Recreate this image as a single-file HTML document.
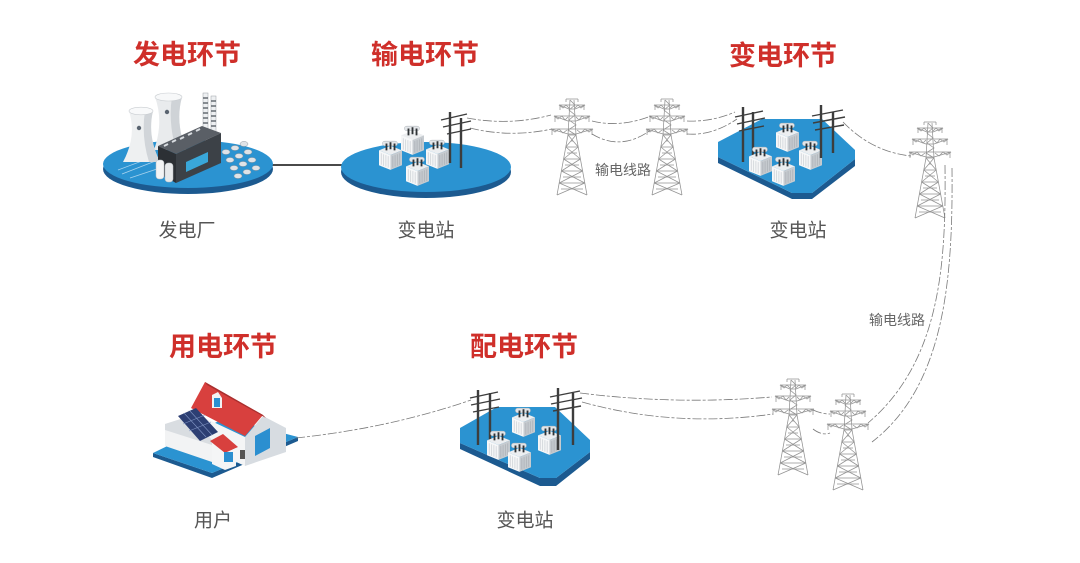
<!DOCTYPE html>
<html><head><meta charset="utf-8"><style>
html,body{margin:0;padding:0;background:#fff;}
svg{display:block;}
.t{font-family:"Liberation Sans","Noto Sans CJK SC",sans-serif;font-weight:700;font-size:27px;fill:#cf2f2a;}
.l{font-family:"Liberation Sans","Noto Sans CJK SC",sans-serif;font-size:19px;fill:#555;}
.s{font-family:"Liberation Sans","Noto Sans CJK SC",sans-serif;font-size:14px;fill:#666;}
</style></head><body>
<svg width="1080" height="563" viewBox="0 0 1080 563" xmlns="http://www.w3.org/2000/svg">
<defs>
<g id="tw" fill="none" stroke="#939393" stroke-width="0.75">
 <path d="M-2,0 L-4,35 L-15,95 M2,0 L4,35 L15,95"/>
 <path d="M-2,0 L3,5 L-3,10 L3,15 L-3,20 L4,25 L-4,30 L4,35"/>
 <path d="M-4,35 L6.2,47 M4,35 L-6.2,47 M-6.2,47 L8.4,59 M6.2,47 L-8.4,59 M-8.4,59 L10.6,71 M8.4,59 L-10.6,71 M-10.6,71 L12.8,83 M10.6,71 L-12.8,83 M-12.8,83 L15,95 M12.8,83 L-15,95"/>
 <path d="M-4,35 H4 M-6.2,47 H6.2 M-8.4,59 H8.4 M-10.6,71 H10.6 M-12.8,83 H12.8 M-1,41 L1,41 M-5,53 L5,53 M-7,65 L7,65 M-9,77 L9,77 M-11,89 L11,89"/>
 <path d="M-13,5 H13 L3,9 H-3 Z M-18,16 H18 L4,21 H-4 Z M-21,29 H21 L4,34 H-4 Z"/>
 <path d="M-13,5 L-9,8 L-6,5 L-3,8 M13,5 L9,8 L6,5 L3,8 M-18,16 L-14,19 L-10,16 L-7,20 L-4,17 M18,16 L14,19 L10,16 L7,20 L4,17 M-21,29 L-17,32 L-13,29 L-9,33 L-5,30 M21,29 L17,32 L13,29 L9,33 L5,30"/>
 <path d="M-12,5 v5 M12,5 v5 M-17,16 v6 M17,16 v6 M-20,29 v6 M20,29 v6 M-6,-1 H6 M-6,-1 v3 M6,-1 v3"/>
</g>
<g id="tf0">
 <rect x="3" y="1" width="13" height="4" rx="2" fill="#e3e6e9" stroke="#b5babf" stroke-width="0.5"/>
 <path d="M0,9 L10,5 L20,9 L10,13 Z" fill="#eceef0"/>
 <path d="M0,9 L10,13 L10,26 L0,22 Z" fill="#f6f7f8"/>
 <path d="M10,13 L20,9 L20,22 L10,26 Z" fill="#c6cbd0"/>
 <path d="M2,11.5 v10 M4,12.5 v10 M6,13.2 v10 M8,14 v10" stroke="#d3d7db" stroke-width="0.8"/>
 <path d="M12,14 v10 M14,13.2 v10 M16,12.4 v10 M18,11.6 v10" stroke="#b0b5ba" stroke-width="0.8"/>
 <path d="M6.5,3 v6 M10,2 v6 M13.5,3 v6" stroke="#2f3336" stroke-width="1.6"/>
</g>
<g id="tf"><use href="#tf0" transform="scale(1.15)"/></g>
</defs>

<!-- Titles -->
<text class="t" x="187" y="55" text-anchor="middle" dominant-baseline="central">发电环节</text>
<text class="t" x="425" y="55" text-anchor="middle" dominant-baseline="central">输电环节</text>
<text class="t" x="783" y="56" text-anchor="middle" dominant-baseline="central">变电环节</text>
<text class="t" x="223" y="347" text-anchor="middle" dominant-baseline="central">用电环节</text>
<text class="t" x="524" y="347" text-anchor="middle" dominant-baseline="central">配电环节</text>

<!-- Labels -->
<text class="l" x="187" y="231" text-anchor="middle" dominant-baseline="central">发电厂</text>
<text class="l" x="426" y="231" text-anchor="middle" dominant-baseline="central">变电站</text>
<text class="l" x="798" y="231" text-anchor="middle" dominant-baseline="central">变电站</text>
<text class="l" x="213" y="521" text-anchor="middle" dominant-baseline="central">用户</text>
<text class="l" x="525" y="521" text-anchor="middle" dominant-baseline="central">变电站</text>
<text class="s" x="623" y="170" text-anchor="middle" dominant-baseline="central">输电线路</text>
<text class="s" x="897" y="320" text-anchor="middle" dominant-baseline="central">输电线路</text>

<!-- connector plant - substation -->
<line x1="270" y1="165" x2="344" y2="165" stroke="#4a4a4a" stroke-width="2"/>

<!-- Power plant disc -->
<ellipse cx="188" cy="169" rx="85" ry="25" fill="#1c5a90"/>
<ellipse cx="188" cy="164" rx="85" ry="24" fill="#2b93d1"/>
<path d="M118,170 L150,158 M122,174 L158,160 M130,178 L160,168" stroke="#a9d3ee" stroke-width="0.8" fill="none"/>
<!-- cooling tower back -->
<path d="M155,97 Q164,122 154,150 L186,150 Q175,122 182,97 Z" fill="#e9ebed"/>
<path d="M172,97 Q168,122 176,150 L186,150 Q175,122 182,97 Z" fill="#cfd3d7"/>
<ellipse cx="168.5" cy="97" rx="13.5" ry="4" fill="#f7f8f9" stroke="#c9cdd1" stroke-width="0.6"/>
<circle cx="167" cy="112" r="2.2" fill="#5a6470"/>
<!-- chimneys -->
<rect x="203" y="93" width="5" height="40" fill="#eef0f2" stroke="#9aa0a6" stroke-width="0.5"/>
<rect x="211" y="96" width="5" height="37" fill="#eef0f2" stroke="#9aa0a6" stroke-width="0.5"/>
<path d="M203,98 h5 M203,103 h5 M203,108 h5 M203,113 h5 M203,118 h5 M203,123 h5 M211,101 h5 M211,106 h5 M211,111 h5 M211,116 h5 M211,121 h5 M211,126 h5" stroke="#4b525a" stroke-width="1.3"/>
<!-- cooling tower front -->
<path d="M129,111 Q137,136 123,162 L160,162 Q147,136 153,111 Z" fill="#eef0f1"/>
<path d="M145,111 Q141,136 149,162 L160,162 Q147,136 153,111 Z" fill="#d1d5d9"/>
<ellipse cx="141" cy="111" rx="12" ry="3.8" fill="#f8f9fa" stroke="#c9cdd1" stroke-width="0.6"/>
<circle cx="139" cy="128" r="2.2" fill="#5a6470"/>
<!-- building -->
<path d="M158,146 L202,126 L221,133 L176,154 Z" fill="#5a5f66"/>
<path d="M158,146 L176,154 L176,183 L158,173 Z" fill="#2c3035"/>
<path d="M176,154 L221,133 L221,163 L176,183 Z" fill="#3c4147"/>
<path d="M164,146 l4,-2 M172,142 l4,-2 M180,139 l4,-2 M188,135 l4,-2 M196,131 l4,-2" stroke="#d8dce0" stroke-width="2"/>
<path d="M186,162 L208,152 L208,162 L186,172 Z" fill="#39a7d9"/>
<!-- tanks -->
<rect x="156" y="160" width="8" height="19" rx="3" fill="#f3f4f5" stroke="#b9bec3" stroke-width="0.5"/>
<rect x="165" y="163" width="8" height="19" rx="3" fill="#e7e9eb" stroke="#b9bec3" stroke-width="0.5"/>
<!-- array -->
<g fill="#dfe3e7" stroke="#8d959d" stroke-width="0.5">
<ellipse cx="226" cy="152" rx="4" ry="2.5"/><ellipse cx="235" cy="148" rx="4" ry="2.5"/><ellipse cx="244" cy="144" rx="4" ry="2.5"/>
<ellipse cx="230" cy="160" rx="4" ry="2.5"/><ellipse cx="239" cy="156" rx="4" ry="2.5"/><ellipse cx="248" cy="152" rx="4" ry="2.5"/>
<ellipse cx="234" cy="168" rx="4" ry="2.5"/><ellipse cx="243" cy="164" rx="4" ry="2.5"/><ellipse cx="252" cy="160" rx="4" ry="2.5"/>
<ellipse cx="238" cy="176" rx="4" ry="2.5"/><ellipse cx="247" cy="172" rx="4" ry="2.5"/><ellipse cx="256" cy="168" rx="4" ry="2.5"/>
</g>

<!-- Substation 1 disc -->
<ellipse cx="426" cy="172" rx="85" ry="26" fill="#1c5a90"/>
<ellipse cx="426" cy="167" rx="85" ry="25" fill="#2b93d1"/>
<use href="#tf" x="401" y="125"/>
<use href="#tf" x="379" y="140"/>
<use href="#tf" x="426" y="139"/>
<use href="#tf" x="406" y="156"/>
<path d="M450,112 V163 M461,118 V168" stroke="#3d3d3d" stroke-width="2.4"/>
<path d="M441,120 L467,114 M443,127 L471,121 M447,134 L471,129" stroke="#3d3d3d" stroke-width="1.4"/>

<!-- Substation 2 platform -->
<path d="M718,157 L792,193 L812,193 L855,159 L855,166 L812,199 L792,199 L718,163 Z" fill="#1c5a90"/>
<path d="M718,142 L762,119 L822,119 L855,150 L855,159 L812,193 L792,193 L718,157 Z" fill="#2b93d1"/>
<path d="M743,107 V162 M753,112 V158" stroke="#3d3d3d" stroke-width="2.4"/>
<path d="M735,117 L763,111 M737,124 L765,118 M739,131 L764,126" stroke="#3d3d3d" stroke-width="1.4"/>
<use href="#tf" x="776" y="122"/>
<use href="#tf" x="749" y="146"/>
<use href="#tf" x="799" y="140"/>
<use href="#tf" x="772" y="156"/>
<path d="M821,105 V158 M833,112 V153" stroke="#3d3d3d" stroke-width="2.4"/>
<path d="M812,116 L843,110 M813,123 L845,117 M815,130 L844,125" stroke="#3d3d3d" stroke-width="1.4"/>

<!-- Substation 3 platform -->
<path d="M460,443 L540,478 L556,478 L590,452 L590,459 L556,486 L540,486 L460,449 Z" fill="#1c5a90"/>
<path d="M460,428 L497,407 L555,407 L590,440 L590,452 L556,478 L540,478 L460,443 Z" fill="#2b93d1"/>
<path d="M478,390 V445 M490,393 V440" stroke="#3d3d3d" stroke-width="2.4"/>
<path d="M470,398 L498,392 M471,405 L500,399 M473,412 L499,407" stroke="#3d3d3d" stroke-width="1.4"/>
<use href="#tf" x="512" y="407"/>
<use href="#tf" x="487" y="430"/>
<use href="#tf" x="538" y="425"/>
<use href="#tf" x="508" y="442"/>
<path d="M558,388 V450 M573,393 V445" stroke="#3d3d3d" stroke-width="2.4"/>
<path d="M550,397 L580,391 M551,404 L582,398 M553,411 L581,406" stroke="#3d3d3d" stroke-width="1.4"/>

<!-- House -->
<path d="M153,453 L212,473 L298,437 L298,441 L212,478 L153,457 Z" fill="#1c5a90"/>
<path d="M153,453 L225,418 L298,437 L212,473 Z" fill="#2b93d1"/>
<path d="M245,437 L263,416 L286,428 L286,452 L245,466 Z" fill="#d7dce1"/>
<path d="M255,436 L270,428 L270,448 L255,456 Z" fill="#2b8fd0"/>
<path d="M188,410 L245,437 L245,466 L188,440 Z" fill="#f4f5f6"/>
<path d="M165,424 L190,416 L212,440 L212,462 L165,446 Z" fill="#f2f3f4"/>
<path d="M165,424 L190,416 L212,440 L212,445 L165,430 Z" fill="#d9dde1"/>
<path d="M205,382 L263,415 L245,436 L191,408 Z" fill="#d8403e"/>
<path d="M205,382 L263,415 L266,418 L207,385 Z" fill="#a8302f"/>
<path d="M178,416 L196,408 L218,432 L200,441 Z" fill="#2d3f73"/>
<path d="M184,413 L206,437 M190,411 L212,435 M183,424 L205,415 M189,431 L211,422" stroke="#7f93c2" stroke-width="0.6"/>
<path d="M212,395 L218,392 L222,398 L222,408 L212,408 Z" fill="#f2f3f4"/>
<rect x="214" y="398" width="6" height="9" fill="#2b8fd0"/>
<path d="M210,441 L223,434 L238,447 L225,453 Z" fill="#d8403e"/>
<path d="M212,448 L225,453 L236,448 L236,466 L225,470 L212,464 Z" fill="#f4f5f6"/>
<rect x="224" y="452" width="9" height="10" fill="#2b8fd0"/>
<rect x="240" y="450" width="5" height="9" fill="#555"/>

<!-- Towers -->
<use href="#tw" x="572" y="100"/>
<use href="#tw" x="667" y="100"/>
<use href="#tw" x="930" y="123"/>
<use href="#tw" x="793" y="380"/>
<use href="#tw" x="848" y="395"/>

<!-- Power lines -->
<g fill="none" stroke="#7a7a7a" stroke-width="0.8" stroke-dasharray="9 2 3 2">
 <path d="M467,118 Q510,126 551,115"/>
 <path d="M470,128 Q510,138 552,129"/>
 <path d="M592,121 Q620,128 651,116"/>
 <path d="M592,134 Q622,152 652,129"/>
 <path d="M687,121 Q712,122 735,112"/>
 <path d="M687,134 Q712,136 737,119"/>
 <path d="M843,122 Q872,152 911,156"/>
 <path d="M945,165 C946,260 942,360 868,423"/>
 <path d="M952,168 C953,275 946,385 872,442"/>
 <path d="M813,410 Q822,414 830,414"/>
 <path d="M813,429 Q822,436 830,433"/>
 <path d="M580,393 Q675,405 772,397"/>
 <path d="M582,402 Q675,428 773,414"/>
 <path d="M296,438 Q390,428 471,400"/>
</g>
</svg>
</body></html>
